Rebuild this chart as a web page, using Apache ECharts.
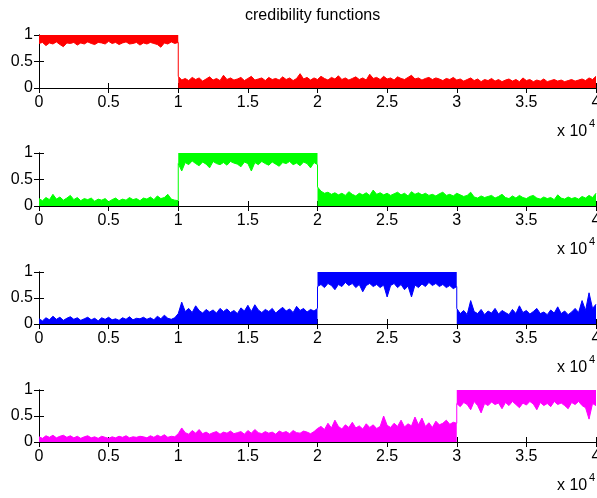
<!DOCTYPE html>
<html>
<head>
<meta charset="utf-8">
<script src="https://cdn.jsdelivr.net/npm/echarts@6/dist/echarts.min.js"></script>
<style>
  html, body { margin: 0; padding: 0; background: #fff; }
  #chart { width: 597px; height: 498px; }
</style>
</head>
<body>
<div id="chart"></div>
<script>
  // x axis: sample index 0..40000, labels shown in units of 10^4
  var xMax = 40000;
  var xTickLabels = ['0', '0.5', '1', '1.5', '2', '2.5', '3', '3.5', '4'];
  var yTickLabels = ['0', '0.5', '1'];

  // envelope of each credibility function, every 250 samples
  // (low part: upper edge of the noise, high part: lower edge of the noise)
  var redA = [0.84,0.86,0.80,0.85,0.83,0.87,0.82,0.78,0.85,0.84,
    0.86,0.81,0.85,0.83,0.87,0.84,0.82,0.86,0.85,0.83,
    0.88,0.84,0.86,0.82,0.85,0.87,0.83,0.84,0.86,0.81,
    0.85,0.83,0.86,0.84,0.82,0.77,0.85,0.83,0.87,0.84,0.86];
  var redB = [0.22,0.15,0.18,0.14,0.20,0.16,0.19,0.13,0.17,0.21,
    0.15,0.18,0.14,0.24,0.16,0.19,0.15,0.17,0.20,0.14,
    0.18,0.22,0.15,0.17,0.19,0.14,0.20,0.16,0.18,0.15,
    0.21,0.16,0.19,0.14,0.18,0.27,0.17,0.20,0.15,0.19,
    0.16,0.22,0.18,0.15,0.20,0.17,0.23,0.16,0.19,0.15,
    0.18,0.21,0.16,0.19,0.15,0.26,0.18,0.20,0.16,0.22,
    0.17,0.19,0.15,0.21,0.18,0.16,0.20,0.24,0.17,0.19,
    0.15,0.18,0.20,0.16,0.19,0.17,0.14,0.18,0.16,0.20,
    0.15,0.17,0.13,0.16,0.19,0.14,0.17,0.12,0.16,0.14,
    0.18,0.13,0.16,0.12,0.15,0.17,0.13,0.16,0.12,0.19,
    0.14,0.16,0.12,0.15,0.13,0.17,0.12,0.14,0.16,0.13,
    0.15,0.12,0.14,0.16,0.13,0.15,0.17,0.14,0.19,0.16,0.22];

  var greenA = [0.14,0.10,0.16,0.12,0.22,0.13,0.17,0.11,0.15,0.20,
    0.12,0.16,0.10,0.14,0.12,0.15,0.09,0.13,0.11,0.14,
    0.08,0.12,0.15,0.10,0.13,0.11,0.16,0.12,0.14,0.10,
    0.15,0.13,0.17,0.12,0.19,0.14,0.16,0.22,0.13,0.11,0.10];
  var greenB = [0.80,0.66,0.82,0.78,0.85,0.80,0.76,0.83,0.79,0.72,
    0.84,0.80,0.78,0.82,0.77,0.84,0.81,0.79,0.74,0.83,
    0.80,0.66,0.82,0.78,0.84,0.80,0.77,0.83,0.79,0.75,
    0.82,0.80,0.84,0.78,0.81,0.76,0.83,0.80,0.72,0.82,0.78];
  var greenC = [0.36,0.28,0.24,0.26,0.22,0.25,0.21,0.24,0.20,0.27,
    0.22,0.19,0.24,0.21,0.25,0.20,0.30,0.22,0.25,0.21,
    0.24,0.20,0.23,0.26,0.21,0.24,0.19,0.27,0.22,0.25,
    0.21,0.24,0.20,0.22,0.19,0.23,0.26,0.20,0.22,0.19,
    0.24,0.21,0.18,0.20,0.26,0.17,0.15,0.19,0.16,0.18,
    0.20,0.15,0.18,0.22,0.16,0.14,0.19,0.15,0.20,0.16,
    0.14,0.18,0.20,0.15,0.13,0.17,0.14,0.16,0.12,0.21,
    0.15,0.13,0.17,0.14,0.16,0.13,0.18,0.15,0.20,0.16,0.24];

  var blueA = [0.10,0.06,0.12,0.08,0.15,0.09,0.13,0.07,0.11,0.14,
    0.09,0.12,0.07,0.10,0.13,0.08,0.11,0.06,0.12,0.09,
    0.13,0.08,0.10,0.07,0.12,0.09,0.14,0.08,0.11,0.10,
    0.13,0.09,0.12,0.08,0.15,0.10,0.17,0.11,0.09,0.12,
    0.20,0.42,0.24,0.30,0.22,0.35,0.26,0.21,0.28,0.23,
    0.27,0.21,0.30,0.24,0.29,0.22,0.26,0.20,0.31,0.25,
    0.36,0.24,0.37,0.27,0.22,0.28,0.24,0.30,0.21,0.27,
    0.32,0.25,0.29,0.22,0.34,0.26,0.30,0.23,0.28,0.25,0.30];
  var blueB = [0.72,0.76,0.70,0.78,0.74,0.66,0.76,0.72,0.80,0.74,
    0.78,0.70,0.76,0.62,0.74,0.78,0.72,0.76,0.70,0.75,
    0.52,0.74,0.78,0.70,0.76,0.66,0.73,0.52,0.75,0.70,
    0.77,0.72,0.80,0.74,0.78,0.72,0.76,0.70,0.74,0.68,0.72];
  var blueC = [0.30,0.20,0.26,0.18,0.45,0.24,0.20,0.28,0.18,0.25,
    0.21,0.30,0.19,0.26,0.22,0.18,0.28,0.20,0.35,0.22,
    0.26,0.19,0.24,0.30,0.20,0.23,0.18,0.27,0.21,0.33,
    0.20,0.25,0.18,0.23,0.30,0.22,0.45,0.26,0.60,0.30,0.38];

  var magentaA = [0.10,0.07,0.12,0.09,0.13,0.08,0.11,0.13,0.09,0.12,
    0.08,0.11,0.07,0.10,0.12,0.08,0.10,0.07,0.11,0.09,
    0.07,0.10,0.08,0.11,0.09,0.12,0.08,0.10,0.09,0.11,
    0.10,0.08,0.12,0.09,0.13,0.10,0.14,0.09,0.11,0.10,
    0.16,0.27,0.18,0.15,0.22,0.17,0.24,0.16,0.19,0.15,
    0.18,0.20,0.15,0.19,0.17,0.21,0.16,0.18,0.20,0.15,
    0.22,0.17,0.24,0.18,0.16,0.20,0.17,0.19,0.15,0.21,
    0.18,0.20,0.16,0.22,0.18,0.17,0.21,0.19,0.16,0.20,
    0.26,0.30,0.24,0.36,0.27,0.42,0.30,0.25,0.33,0.28,
    0.38,0.27,0.31,0.25,0.35,0.28,0.33,0.26,0.30,0.50,
    0.32,0.28,0.36,0.30,0.42,0.29,0.35,0.31,0.48,0.33,
    0.46,0.30,0.37,0.28,0.40,0.33,0.36,0.42,0.34,0.38,0.36];
  var magentaB = [0.74,0.68,0.76,0.72,0.62,0.78,0.70,0.56,0.74,0.70,
    0.77,0.72,0.75,0.64,0.76,0.70,0.78,0.72,0.66,0.75,
    0.71,0.78,0.73,0.62,0.76,0.70,0.74,0.68,0.78,0.72,
    0.75,0.70,0.64,0.76,0.72,0.78,0.70,0.66,0.44,0.74,0.70];

  // [from, to, values, isHighPart]
  var plots = [
    { color: '#ff0000', segs: [[0, 10000, redA, true], [10000, 40000, redB, false]] },
    { color: '#00ff00', segs: [[0, 10000, greenA, false], [10000, 20000, greenB, true], [20000, 40000, greenC, false]] },
    { color: '#0000ff', segs: [[0, 20000, blueA, false], [20000, 30000, blueB, true], [30000, 40000, blueC, false]] },
    { color: '#ff00ff', segs: [[0, 30000, magentaA, false], [30000, 40000, magentaB, true]] }
  ];

  var font = 'Liberation Sans, Arial, sans-serif';
  var gridTops = [35, 153, 272, 390];
  var gridHeights = [53, 53, 52, 52];

  function segData(from, to, vals, prevLast) {
    var d = [];
    if (prevLast != null) d.push([from, prevLast]); // vertical jump at the switch
    var n = vals.length - 1;
    for (var i = 0; i < vals.length; i++) {
      d.push([from + (to - from) * i / n, vals[i]]);
    }
    return d;
  }

  var grid = [], xAxis = [], yAxis = [], series = [], graphic = [];
  var axisLine = { show: true, lineStyle: { color: '#000', width: 1 } };
  var tick = { show: true, inside: true, length: 5, lineStyle: { color: '#000', width: 1 } };

  plots.forEach(function (p, i) {
    grid.push({ left: 39, top: gridTops[i], width: 557, height: gridHeights[i],
      outerBoundsMode: 'none', containLabel: false });
    var xBase = { gridIndex: i, type: 'value', min: 0, max: xMax, interval: 5000,
      axisLine: axisLine, axisTick: tick, splitLine: { show: false } };
    xAxis.push(Object.assign({}, xBase, {
      position: 'bottom',
      axisLabel: { color: '#000', fontSize: 16, fontFamily: font, margin: 7,
        formatter: function (v) { return xTickLabels[Math.round(v / 5000)]; } }
    }));
    xAxis.push(Object.assign({}, xBase, { position: 'top', axisLabel: { show: false } }));
    var yBase = { gridIndex: i, type: 'value', min: 0, max: 1, interval: 0.5,
      axisLine: axisLine, axisTick: tick, splitLine: { show: false } };
    yAxis.push(Object.assign({}, yBase, {
      position: 'left',
      axisLabel: { color: '#000', fontSize: 16, fontFamily: font, margin: 6,
        formatter: function (v) { return yTickLabels[Math.round(v / 0.5)]; } }
    }));
    yAxis.push(Object.assign({}, yBase, { position: 'right', axisLabel: { show: false } }));

    var prevLast = null;
    p.segs.forEach(function (s) {
      series.push({
        type: 'line',
        xAxisIndex: i * 2,
        yAxisIndex: i * 2,
        data: segData(s[0], s[1], s[2], prevLast),
        symbol: 'none',
        silent: true,
        lineStyle: { color: p.color, width: 1 },
        areaStyle: { color: p.color, opacity: 1, origin: s[3] ? 'end' : 'start' }
      });
      prevLast = s[2][s[2].length - 1];
    });

    var yb = gridTops[i] + gridHeights[i] + 44;
    graphic.push({ type: 'text', left: 557, top: yb - 8,
      style: { text: 'x 10', fontSize: 16, fontFamily: font, fill: '#000' } });
    graphic.push({ type: 'text', left: 589, top: yb - 14,
      style: { text: '4', fontSize: 11, fontFamily: font, fill: '#000' } });
  });

  var chart = echarts.init(document.getElementById('chart'));
  chart.setOption({
    animation: false,
    backgroundColor: '#fff',
    title: {
      text: 'credibility functions',
      left: 245, top: 8, padding: 0,
      textStyle: { fontSize: 16, fontWeight: 'normal', color: '#000', fontFamily: font }
    },
    grid: grid,
    xAxis: xAxis,
    yAxis: yAxis,
    series: series,
    graphic: graphic
  });
</script>
</body>
</html>
